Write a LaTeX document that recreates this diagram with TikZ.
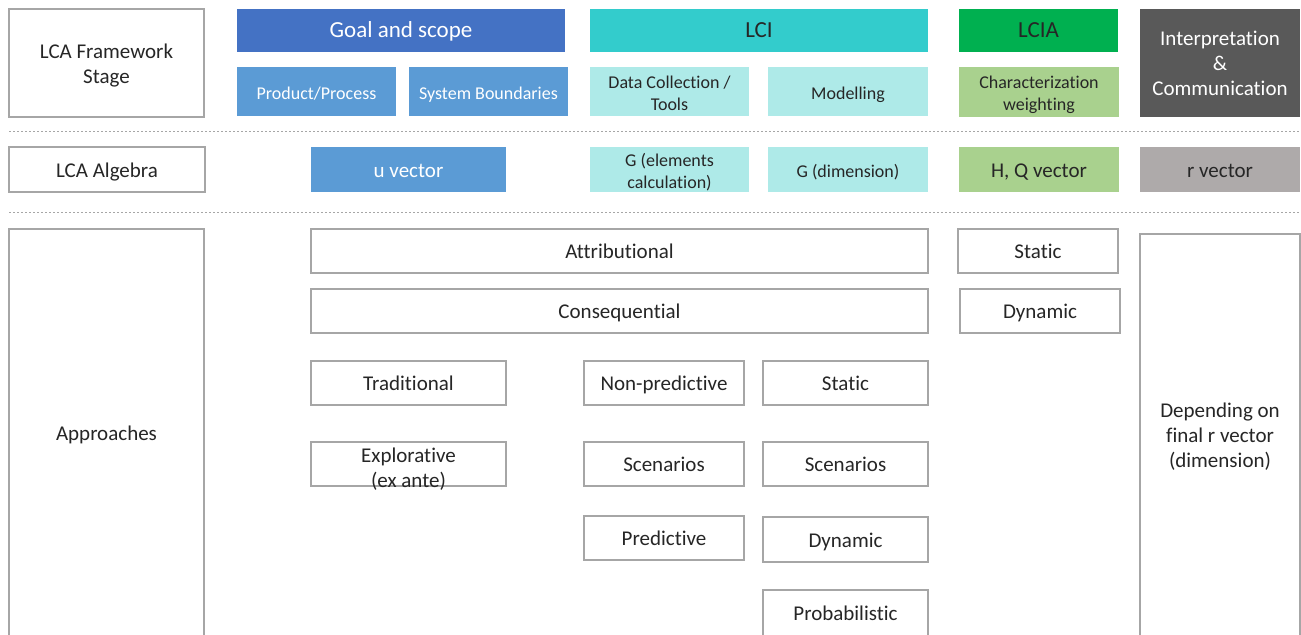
\documentclass[tikz,border=0pt]{standalone}
\usepackage{fontspec}
\setmainfont{Carlito}[Ligatures=NoCommon]
\definecolor{bord}{HTML}{A6A6A6}
\definecolor{goal}{HTML}{4472C4}
\definecolor{lblue}{HTML}{5B9BD5}
\definecolor{lci}{HTML}{33CCCC}
\definecolor{lteal}{HTML}{AEEAE8}
\definecolor{lcia}{HTML}{00B050}
\definecolor{lgreen}{HTML}{A9D18E}
\definecolor{dgray}{HTML}{595959}
\definecolor{mgray}{HTML}{AEAAAA}
\definecolor{txt}{HTML}{262626}
\newcommand{\bx}[8][4pt]{\node[#7, minimum width={(#5-#3)*0.5pt}, minimum height={(#6-#4)*0.5pt}] (#2) at ({(#3+#5)/2},{(#4+#6)/2}) {\raisebox{-#1}[0pt][0pt]{\begin{tabular}{@{}c@{}}#8\end{tabular}}};}
\begin{document}
\begin{tikzpicture}[x=0.5pt,y=-0.5pt,
  base/.style={inner sep=0pt, text=txt, font=\fontsize{10.5}{12.5}\selectfont},
  wbox/.style={base, draw=bord, line width=0.75pt, fill=white},
  hdr/.style={base, font=\fontsize{11.5}{13}\selectfont},
  sub/.style={base, font=\fontsize{9}{11}\selectfont},
  sep/.style={draw=bord, line width=0.5pt, dash pattern=on 1pt off 1pt}]
\useasboundingbox[fill=white] (0,0) rectangle (1301,635);
% row 1
\bx{lcafs}{9}{9}{204}{117}{wbox}{LCA Framework\\Stage}
\bx{goal}{237}{9}{565}{52}{hdr, fill=goal, text=white}{Goal and scope}
\bx{prod}{237}{67}{396}{116}{sub, fill=lblue, text=white}{Product/Process}
\bx{sysb}{409}{67}{568}{116}{sub, fill=lblue, text=white}{System Boundaries}
\bx{lci}{590}{9}{928}{52}{hdr, fill=lci}{LCI}
\bx{datac}{590}{67}{749}{116}{sub, fill=lteal}{Data Collection /\\Tools}
\bx{model}{768}{67}{928}{116}{sub, fill=lteal}{Modelling}
\bx{lcia}{959}{9}{1118}{52}{hdr, fill=lcia}{LCIA}
\bx{charw}{959}{67}{1119}{117}{sub, fill=lgreen}{Characterization\\weighting}
\bx{interp}{1140}{9}{1300}{117}{base, fill=dgray, text=white}{Interpretation\\\&\\Communication}
\coordinate (s1a) at (9,132);
\coordinate (s1b) at (1300,132);
\draw[sep] (s1a) -- (s1b);
% row 2
\bx{alg}{9}{147}{205}{192}{wbox}{LCA Algebra}
\bx{uvec}{311}{147}{506}{192}{base, fill=lblue, text=white}{u vector}
\bx{gel}{590}{147}{749}{192}{sub, fill=lteal}{G (elements\\calculation)}
\bx{gdim}{768}{147}{928}{192}{sub, fill=lteal}{G (dimension)}
\bx{hq}{959}{147}{1119}{192}{base, fill=lgreen}{H, Q vector}
\bx{rvec}{1140}{147}{1300}{192}{base, fill=mgray}{r vector}
\coordinate (s2a) at (9,213);
\coordinate (s2b) at (1300,213);
\draw[sep] (s2a) -- (s2b);
% row 3
\bx{appr}{9}{229}{204}{636}{wbox}{Approaches}
\bx{attr}{311}{229}{928}{273}{wbox}{Attributional}
\bx{cons}{311}{289}{928}{333}{wbox}{Consequential}
\bx{stat1}{958}{229}{1118}{273}{wbox}{Static}
\bx{dyn1}{960}{289}{1120}{333}{wbox}{Dynamic}
\bx{trad}{311}{361}{506}{405}{wbox}{Traditional}
\bx[5.5pt]{expl}{311}{442}{506}{486}{wbox}{Explorative\\(ex ante)}
\bx{nonp}{584}{361}{744}{405}{wbox}{Non-predictive}
\bx{scen1}{584}{442}{744}{486}{wbox}{Scenarios}
\bx{pred}{584}{516}{744}{560}{wbox}{Predictive}
\bx{stat2}{763}{361}{928}{405}{wbox}{Static}
\bx{scen2}{763}{442}{928}{486}{wbox}{Scenarios}
\bx{dyn2}{763}{517}{928}{562}{wbox}{Dynamic}
\bx{prob}{763}{590}{928}{636}{wbox}{Probabilistic}
\bx{dep}{1140}{234}{1300}{636}{wbox}{Depending on\\final r vector\\(dimension)}
\end{tikzpicture}
\end{document}
